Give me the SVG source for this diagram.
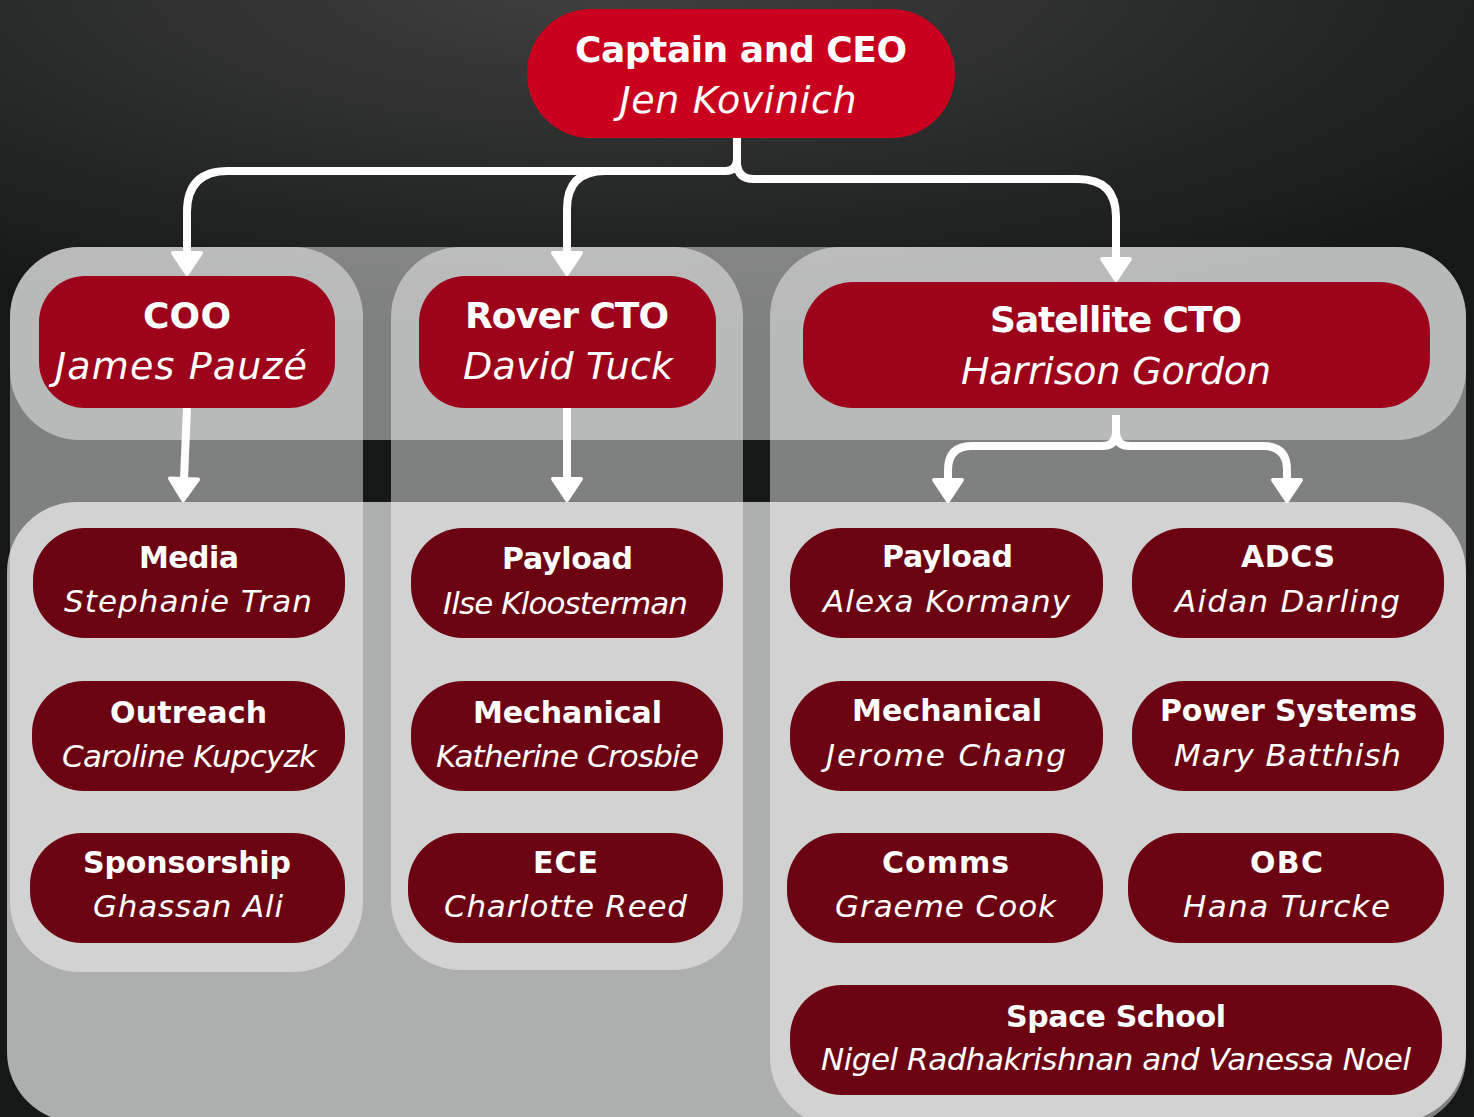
<svg xmlns="http://www.w3.org/2000/svg" width="1474" height="1117" viewBox="0 0 1474 1117">
<defs>
<radialGradient id="bg" gradientUnits="userSpaceOnUse" cx="0" cy="0" r="1140" gradientTransform="translate(600,-20) scale(1,0.32)">
<stop offset="0" stop-color="#3f403f"/>
<stop offset="1" stop-color="#161818"/>
</radialGradient>
<marker id="arr" viewBox="-3 -19 30 38" refX="0" refY="0" markerWidth="30" markerHeight="38" markerUnits="userSpaceOnUse" orient="auto">
<path d="M0,-14 L21,0 L0,14 Z" fill="#fff" stroke="#fff" stroke-width="4" stroke-linejoin="round"/>
</marker>
<style>
.band{fill:#fff;fill-opacity:0.45}
.lband{fill:#fff;fill-opacity:0.65}
.col{fill:#fff;fill-opacity:0.45}
.ceo{fill:#c9001e}
.cto{fill:#9d031a}
.team{fill:#6c0313}
.t{font-family:"DejaVu Sans",sans-serif;fill:#fff;text-anchor:middle}
.b{font-weight:bold}
.i{font-style:italic}
.big{font-size:36px}
.bn{font-size:38px}
.sm{font-size:30px}
.nm{font-size:31px}
.con{fill:none;stroke:#fff;stroke-width:8;stroke-linejoin:round;marker-end:url(#arr)}
</style>
</defs>
<rect x="0" y="0" width="1474" height="1117" fill="url(#bg)"/>
<g id="containers">
<rect class="band" x="10" y="247" width="1456" height="193" rx="70"/>
<rect class="lband" x="7" y="502" width="1459" height="620" rx="70"/>
<rect class="col" x="10" y="247" width="353" height="725" rx="70"/>
<rect class="col" x="391" y="247" width="352" height="723" rx="70"/>
<rect class="col" x="770" y="247" width="696" height="880" rx="70"/>
</g>
<g id="connectors">
<path class="con" d="M737,138 V159 Q737,171 725,171 H228 Q187,171 187,212 V253"/>
<path class="con" d="M625,171 H605 Q567,171 567,209 V253"/>
<path class="con" d="M737,138 V162 Q737,179 754,179 H1078 Q1116,179 1116,217 V259"/>
<path class="con" d="M187,408 L184,479"/>
<path class="con" d="M567,408 V479"/>
<path class="con" d="M1116,415 V432 Q1116,446 1102,446 H972 Q948,446 948,470 V480"/>
<path class="con" d="M1116,415 V432 Q1116,446 1130,446 H1263 Q1287,446 1287,470 V480"/>
</g>
<g id="node-ceo"><rect class="ceo" x="527" y="9" width="428" height="129" rx="64"/><text class="t b big" x="741" y="62" textLength="332" lengthAdjust="spacing">Captain and CEO</text><text class="t i bn" x="738" y="113" textLength="237" lengthAdjust="spacing">Jen Kovinich</text></g>
<g id="node-coo"><rect class="cto" x="39" y="276" width="296" height="132" rx="46"/><text class="t b big" x="187" y="328" textLength="88" lengthAdjust="spacing">COO</text><text class="t i bn" x="181" y="379" textLength="252" lengthAdjust="spacing">James Pauzé</text></g>
<g id="node-rover-cto"><rect class="cto" x="419" y="276" width="297" height="132" rx="46"/><text class="t b big" x="567" y="328" textLength="204" lengthAdjust="spacing">Rover CTO</text><text class="t i bn" x="568" y="379" textLength="210" lengthAdjust="spacing">David Tuck</text></g>
<g id="node-satellite-cto"><rect class="cto" x="803" y="282" width="627" height="126" rx="50"/><text class="t b big" x="1116" y="332" textLength="252" lengthAdjust="spacing">Satellite CTO</text><text class="t i bn" x="1116" y="384" textLength="310" lengthAdjust="spacing">Harrison Gordon</text></g>
<g id="node-media"><rect class="team" x="33" y="528" width="312" height="110" rx="52"/><text class="t b sm" x="189" y="568" textLength="100" lengthAdjust="spacing">Media</text><text class="t i nm" x="188" y="612" textLength="248" lengthAdjust="spacing">Stephanie Tran</text></g>
<g id="node-outreach"><rect class="team" x="32" y="681" width="313" height="110" rx="52"/><text class="t b sm" x="188.5" y="723" textLength="157" lengthAdjust="spacing">Outreach</text><text class="t i nm" x="189.5" y="767" textLength="255" lengthAdjust="spacing">Caroline Kupcyzk</text></g>
<g id="node-sponsorship"><rect class="team" x="30" y="833" width="315" height="110" rx="52"/><text class="t b sm" x="187" y="873" textLength="208" lengthAdjust="spacing">Sponsorship</text><text class="t i nm" x="188" y="917" textLength="190" lengthAdjust="spacing">Ghassan Ali</text></g>
<g id="node-rover-payload"><rect class="team" x="411" y="528" width="312" height="110" rx="52"/><text class="t b sm" x="567.5" y="569" textLength="131" lengthAdjust="spacing">Payload</text><text class="t i nm" x="565.5" y="614" textLength="245" lengthAdjust="spacing">Ilse Kloosterman</text></g>
<g id="node-rover-mechanical"><rect class="team" x="411" y="681" width="312" height="110" rx="52"/><text class="t b sm" x="567.5" y="723" textLength="189" lengthAdjust="spacing">Mechanical</text><text class="t i nm" x="567.5" y="767" textLength="263" lengthAdjust="spacing">Katherine Crosbie</text></g>
<g id="node-ece"><rect class="team" x="408" y="833" width="315" height="110" rx="52"/><text class="t b sm" x="565.5" y="873" textLength="65" lengthAdjust="spacing">ECE</text><text class="t i nm" x="565.5" y="917" textLength="243" lengthAdjust="spacing">Charlotte Reed</text></g>
<g id="node-sat-payload"><rect class="team" x="790" y="528" width="313" height="110" rx="52"/><text class="t b sm" x="947.5" y="567" textLength="131" lengthAdjust="spacing">Payload</text><text class="t i nm" x="946.5" y="612" textLength="247" lengthAdjust="spacing">Alexa Kormany</text></g>
<g id="node-adcs"><rect class="team" x="1132" y="528" width="312" height="110" rx="52"/><text class="t b sm" x="1288" y="567" textLength="94" lengthAdjust="spacing">ADCS</text><text class="t i nm" x="1287.5" y="612" textLength="225" lengthAdjust="spacing">Aidan Darling</text></g>
<g id="node-sat-mechanical"><rect class="team" x="790" y="681" width="313" height="110" rx="52"/><text class="t b sm" x="947" y="721" textLength="190" lengthAdjust="spacing">Mechanical</text><text class="t i nm" x="946" y="766" textLength="240" lengthAdjust="spacing">Jerome Chang</text></g>
<g id="node-power"><rect class="team" x="1132" y="681" width="312" height="110" rx="52"/><text class="t b sm" x="1288.5" y="721" textLength="257" lengthAdjust="spacing">Power Systems</text><text class="t i nm" x="1287.5" y="766" textLength="227" lengthAdjust="spacing">Mary Batthish</text></g>
<g id="node-comms"><rect class="team" x="787" y="833" width="316" height="110" rx="52"/><text class="t b sm" x="945.5" y="873" textLength="127" lengthAdjust="spacing">Comms</text><text class="t i nm" x="945.5" y="917" textLength="221" lengthAdjust="spacing">Graeme Cook</text></g>
<g id="node-obc"><rect class="team" x="1128" y="833" width="316" height="110" rx="52"/><text class="t b sm" x="1286.5" y="873" textLength="73" lengthAdjust="spacing">OBC</text><text class="t i nm" x="1286.5" y="917" textLength="207" lengthAdjust="spacing">Hana Turcke</text></g>
<g id="node-space-school"><rect class="team" x="790" y="985" width="652" height="110" rx="52"/><text class="t b sm" x="1116" y="1027" textLength="220" lengthAdjust="spacing">Space School</text><text class="t i nm" x="1116" y="1070" textLength="590" lengthAdjust="spacing">Nigel Radhakrishnan and Vanessa Noel</text></g>
</svg>
